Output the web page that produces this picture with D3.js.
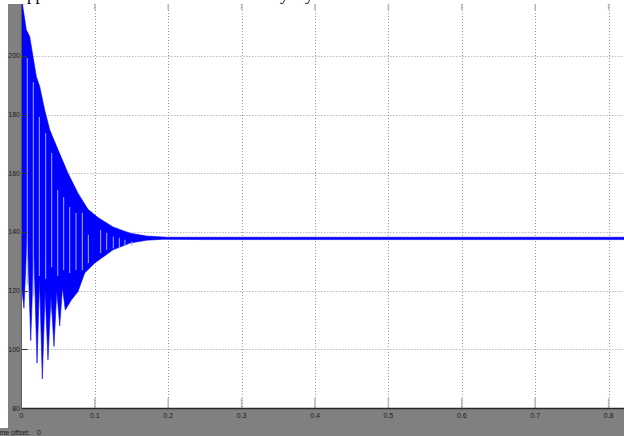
<!DOCTYPE html>
<html>
<head>
<meta charset="utf-8">
<script src="https://cdn.jsdelivr.net/npm/d3@7"></script>
<style>
  body { margin: 0; background: #fff; }
  svg { display: block; }
</style>
</head>
<body>
<div id="container"></div>
<script>
'use strict'

// ticks
const xTicks = [0, 0.1, 0.2, 0.3, 0.4, 0.5, 0.6, 0.7, 0.8];
const yTicks = [80, 100, 120, 140, 160, 180, 200];

// upper edge of the signal band (time s, value)
const upperT = [0, 0.0022, 0.0067, 0.0113, 0.0158, 0.0203, 0.0249, 0.0317, 0.0386, 0.0499, 0.0635, 0.0771, 0.0907, 0.1044, 0.1248, 0.1480, 0.1707, 0.1984, 0.243, 0.821];
const upperV = [222, 216.3, 208.9, 206.6, 199.8, 193, 189.6, 181.6, 174.8, 168, 160, 153.2, 147.7, 144.9, 141.7, 139.6, 138.6, 138.2, 138.2, 138.2];

// lower edge, with the downward spikes of the first periods
const lowerT = [0, 0.0035, 0.0080, 0.0127, 0.0169, 0.0213, 0.0248, 0.0285, 0.0323, 0.0362, 0.0403, 0.0444, 0.0482, 0.0522, 0.0560, 0.0598, 0.0680, 0.0771, 0.0862, 0.0999, 0.1248, 0.1480, 0.1707, 0.1929, 0.25, 0.821];
const lowerV = [122, 114, 140, 103, 134, 95.3, 124, 89.9, 120, 96.4, 118, 101, 120, 108, 121, 113.4, 116.8, 119.7, 126, 129.4, 133.9, 136.2, 137.2, 137.5, 137.4, 137.4];

// light vertical streaks inside the band
const streakT   = [0.0080, 0.0162, 0.0244, 0.0331, 0.0413, 0.0495, 0.0576, 0.0658, 0.0744, 0.0830, 0.0912, 0.1080, 0.1162, 0.1252, 0.1334, 0.1411, 0.1503];
const streakTop = [199.3, 191.1, 179.2, 173.7, 166.9, 154.3, 151.9, 148.5, 146.5, 146.5, 139, 140.7, 139.7, 138.4, 138, 137.3, 136.7];
const streakBot = [122, 118, 125, 124, 128, 125, 127, 126, 127, 127, 129.4, 132.8, 133.9, 134.4, 134.4, 135, 135.2];

const w = 624, h = 436;
const pLeft = 21.4, pRight = 624, pTop = 4, pBottom = 408;

const xScale = d3.scaleLinear().domain([0, 0.821]).range([pLeft, pRight]);
const yScale = d3.scaleLinear().domain([80, 217.7]).range([pBottom, pTop]);

const svg = d3.select("#container").append("svg")
  .attr("width", w).attr("height", h);

// backgrounds
svg.append("rect").attr("width", w).attr("height", h).attr("fill", "#808080");
svg.append("rect").attr("x", 0).attr("y", 0).attr("width", 8).attr("height", 428).attr("fill", "#fff");
svg.append("rect").attr("x", 0).attr("y", 0).attr("width", w).attr("height", pTop).attr("fill", "#fff");
svg.append("rect").attr("x", pLeft).attr("y", pTop).attr("width", pRight - pLeft).attr("height", pBottom - pTop).attr("fill", "#fff");

// fragments of the caption above, cut by the screenshot
const cap = svg.append("g").style("font-family", "'Liberation Serif', serif").style("font-size", "17px").attr("fill", "#000");
cap.append("text").attr("x", 27).attr("y", 0).text("pp");
cap.append("text").attr("x", 280).attr("y", 0).text("y");
cap.append("text").attr("x", 305).attr("y", 0).text("y");

svg.append("clipPath").attr("id", "plotclip")
  .append("rect").attr("x", pLeft).attr("y", pTop).attr("width", pRight - pLeft).attr("height", pBottom - pTop);

// grid
const grid = svg.append("g").attr("stroke", "#9a9a9a").attr("stroke-width", 1).attr("stroke-dasharray", "1,2");
grid.selectAll("line.vx").data(xTicks.slice(1)).enter().append("line")
  .attr("x1", d => Math.round(xScale(d)) + 0.5).attr("x2", d => Math.round(xScale(d)) + 0.5)
  .attr("y1", pTop).attr("y2", pBottom);
grid.selectAll("line.hy").data(yTicks.slice(1)).enter().append("line")
  .attr("y1", d => Math.round(yScale(d)) + 0.5).attr("y2", d => Math.round(yScale(d)) + 0.5)
  .attr("x1", pLeft).attr("x2", pRight);

// signal band
const pts = upperT.map((t, i) => [t, upperV[i]])
  .concat(lowerT.map((t, i) => [t, lowerV[i]]).reverse());
const line = d3.line().x(d => xScale(d[0])).y(d => yScale(d[1]));

const plot = svg.append("g").attr("clip-path", "url(#plotclip)");
plot.append("path").attr("d", line(pts) + "Z").attr("fill", "#0000ff").attr("stroke", "#0000ff").attr("stroke-width", 0.6);

plot.selectAll("line.streak").data(streakT).enter().append("line")
  .attr("x1", d => xScale(d)).attr("x2", d => xScale(d))
  .attr("y1", (d, i) => yScale(streakTop[i])).attr("y2", (d, i) => yScale(streakBot[i]))
  .attr("stroke", "#a8aeff").attr("stroke-width", 1);

// tick marks
const ticks = svg.append("g");
ticks.selectAll("line.bt").data(xTicks.slice(1)).enter().append("line")
  .attr("x1", d => xScale(d)).attr("x2", d => xScale(d))
  .attr("y1", pBottom - 10).attr("y2", pBottom)
  .attr("stroke", "#b8b8b8").attr("stroke-width", 1.5);
ticks.selectAll("line.tt").data(xTicks.slice(1)).enter().append("line")
  .attr("x1", d => xScale(d)).attr("x2", d => xScale(d))
  .attr("y1", pTop).attr("y2", pTop + 6)
  .attr("stroke", "#b8b8b8").attr("stroke-width", 1.5);
ticks.selectAll("line.lt").data(yTicks.slice(1)).enter().append("line")
  .attr("x1", pLeft).attr("x2", pLeft + 6)
  .attr("y1", d => Math.round(yScale(d)) + 0.5).attr("y2", d => Math.round(yScale(d)) + 0.5)
  .attr("stroke", "#333").attr("stroke-width", 1);

// axis lines
svg.append("line").attr("x1", pLeft).attr("x2", pRight).attr("y1", pBottom + 0.5).attr("y2", pBottom + 0.5)
  .attr("stroke", "#2a2a2a").attr("stroke-width", 1.5);
svg.append("line").attr("x1", pLeft).attr("x2", pLeft).attr("y1", pTop).attr("y2", pBottom)
  .attr("stroke", "#555").attr("stroke-width", 1);

// tick labels
const lab = svg.append("g").style("font-family", "'Liberation Sans', sans-serif").style("font-size", "7px").attr("fill", "#1e1e1e");
lab.selectAll("text.yl").data(yTicks).enter().append("text")
  .attr("x", 20).attr("y", d => yScale(d) + 2.5)
  .attr("text-anchor", "end").text(d => d);
lab.selectAll("text.xl").data(xTicks).enter().append("text")
  .attr("x", d => xScale(d)).attr("y", 418)
  .attr("text-anchor", "middle").text(d => d);

lab.append("text").attr("x", 30).attr("y", 435).attr("text-anchor", "end").text("Time offset:");
lab.append("text").attr("x", 37).attr("y", 435).text("0");
</script>
</body>
</html>
